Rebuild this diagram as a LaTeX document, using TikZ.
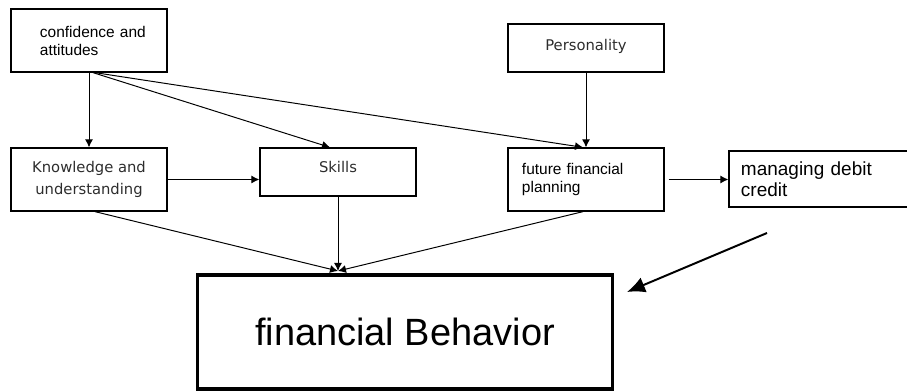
\documentclass[tikz,border=0pt]{standalone}
\usepackage{fontspec}
\setmainfont{Liberation Sans}
\newfontfamily\tahomalike{DejaVu Sans}
\usetikzlibrary{positioning}
\usetikzlibrary{arrows.meta}
\definecolor{boxtext}{RGB}{45,45,45}
\tikzset{
  factor/.style={rectangle,draw,line width=0.9pt,minimum width=3.9cm,
                 minimum height=1.575cm,inner ysep=0pt},
  plainfactor/.style={factor,align=left,
                 font=\fontsize{11}{12.8}\selectfont},
  grayfactor/.style={factor,align=center,text=boxtext,inner xsep=0pt,
                 font=\tahomalike\fontsize{10.5}{15.5}\selectfont},
  outcome/.style={rectangle,draw,line width=2.2pt,minimum width=10.35cm,
                 minimum height=2.85cm,font=\fontsize{27}{30}\selectfont},
  medarrow/.style={-{Latex[length=2mm,width=2mm]},line width=0.7pt},
  bigarrow/.style={-{Latex[length=4.5mm,width=4mm]},line width=1.4pt},
}
\begin{document}
\begin{tikzpicture}[
    x=0.025cm,y=-0.025cm,
    ]
  \clip (0,0) rectangle (907,392);

  \node[plainfactor,text width=2.45cm,inner xsep=0.725cm]
      (confidenceBox) at (89,40.5) {confidence~and\\attitudes};
  \node[grayfactor,minimum height=1.2cm,text depth=0.9ex]
      (personalityBox) at (586,48) {Personality};

  \node[grayfactor]
      (knowledgeBox) at (89,179.5) {Knowledge and\\understanding};
  \node[grayfactor,minimum height=1.2cm,text depth=1.5ex]
      (skillsBox) at (338,172) {Skills};
  \node[plainfactor,text width=3.2cm,inner xsep=0.35cm]
      (planningBox) at (586,179.5) {future financial\\planning};
  \node[plainfactor,minimum width=4.525cm,minimum height=1.4cm,
        text width=3.925cm,inner xsep=0.3cm,
        font=\fontsize{13.5}{15}\selectfont]
      (debitBox) at (819.5,179) {managing debit\\credit};

  \node[outcome] (behaviorBox) at (405,332) {financial Behavior};

  % meeting point of the three arrows, and the loose heavy arrow
  \coordinate (behaviorTop) at (338,271);
  \coordinate (debitTail) at (767,233);
  \coordinate (behaviorSide) at (627,292);

  \draw[medarrow] (confidenceBox.south) -- (knowledgeBox.north);
  \draw[medarrow] ([xshift=0.1cm]confidenceBox.south) --
      ([xshift=-0.2cm]skillsBox.north);
  \draw[medarrow] ([xshift=0.15cm]confidenceBox.south) --
      ([xshift=-0.075cm]planningBox.north);
  \draw[medarrow] (personalityBox) -- (planningBox);

  \draw[medarrow] (knowledgeBox.east) -- (knowledgeBox.east -| skillsBox.west);
  \draw[medarrow] ([xshift=0.1cm]planningBox.east) --
      (planningBox.east -| debitBox.west);

  \draw[medarrow] ([xshift=0.15cm]knowledgeBox.south) -- (behaviorTop);
  \draw[medarrow] (skillsBox) -- (behaviorTop);
  \draw[medarrow] ([xshift=-0.075cm]planningBox.south) -- (behaviorTop);

  \draw[bigarrow] (debitTail) -- (behaviorSide);
\end{tikzpicture}
\end{document}
